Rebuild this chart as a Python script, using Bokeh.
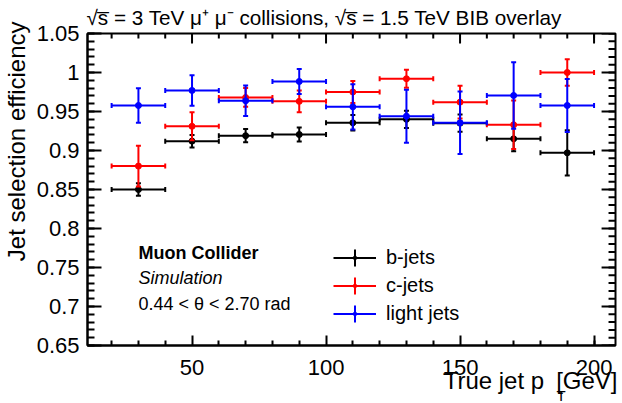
import math
from bokeh.plotting import figure
from bokeh.models import Range1d, FixedTicker, Label, Legend, LegendItem, ColumnDataSource, Title
from bokeh.embed import file_html
from bokeh.resources import INLINE

# ---------------- data ----------------
bin_centers = [30, 50, 70, 90, 110, 130, 150, 170, 190]
bin_half_width = [10, 10, 10, 10, 10, 10, 10, 10, 10]

b_eff = [0.850, 0.912, 0.919, 0.9205, 0.9355, 0.940, 0.935, 0.915, 0.897]
b_err = [0.008, 0.008, 0.0085, 0.009, 0.010, 0.011, 0.011, 0.016, 0.029]

c_eff = [0.880, 0.931, 0.968, 0.963, 0.975, 0.992, 0.962, 0.933, 1.000]
c_err = [0.026, 0.018, 0.012, 0.014, 0.014, 0.0115, 0.021, 0.031, 0.017]

l_eff = [0.9577, 0.977, 0.9637, 0.9885, 0.956, 0.944, 0.9355, 0.9705, 0.9577]
l_err = [0.022, 0.0195, 0.0196, 0.016, 0.029, 0.034, 0.040, 0.0425, 0.034]

series_names = ["b-jets", "c-jets", "light jets"]
series_colors = ["#000000", "#ff0000", "#0000ff"]

x_lim = [11, 208]
y_lim = [0.65, 1.05]
x_major = [50, 100, 150, 200]
x_minor = [20, 30, 40, 60, 70, 80, 90, 110, 120, 130, 140, 160, 170, 180, 190, 200]
y_major = [0.65, 0.7, 0.75, 0.8, 0.85, 0.9, 0.95, 1.0, 1.05]
y_major_labels = ["0.65", "0.7", "0.75", "0.8", "0.85", "0.9", "0.95", "1", "1.05"]
y_minor = [round(0.65 + 0.01 * i, 2) for i in range(41)]

title_text = "\u221as\u0305 = 3 TeV \u03bc\u207a \u03bc\u207b collisions, \u221as\u0305 = 1.5 TeV BIB overlay"
x_title_main = "True jet p\u2002[GeV]"
x_title_sub = "T"
y_title = "Jet selection efficiency"
info_lines = ["Muon Collider", "Simulation", "0.44 < \u03b8 < 2.70 rad"]

FONT = "Liberation Sans"

# layout (px)
W, H = 622, 403
B_LEFT, B_RIGHT, B_TOP, B_BOTTOM = 84, 7, 33, 58
FRAME_W = W - B_LEFT - B_RIGHT
FRAME_H = H - B_TOP - B_BOTTOM
X_MAJOR_TICK, X_MINOR_TICK = 10, 5
Y_MAJOR_TICK, Y_MINOR_TICK = 14, 7

# legend layout (screen px, relative to the frame's bottom-left)
legend_x = 246
legend_first_row = 88
legend_row_gap = 28
legend_box = 43

p = figure(width=W, height=H, output_backend="svg", toolbar_location=None,
           x_range=Range1d(*x_lim), y_range=Range1d(*y_lim),
           min_border_left=B_LEFT, min_border_right=B_RIGHT,
           min_border_top=B_TOP, min_border_bottom=B_BOTTOM)
p.grid.visible = False
p.outline_line_color = "black"
p.outline_line_width = 2
p.background_fill_color = "white"
p.border_fill_color = "white"

# title (above)
p.title.text = title_text
p.title.text_font = FONT
p.title.text_font_size = "20.7px"
p.title.text_font_style = "normal"
p.title.text_color = "black"
p.title.align = "left"
p.title.vertical_align = "top"
p.title.offset = -1
p.title.standoff = 5


def style_axis(ax, major, minor, tin, tmin):
    ax.ticker = FixedTicker(ticks=major, minor_ticks=minor)
    ax.major_tick_in = tin
    ax.major_tick_out = 0
    ax.minor_tick_in = tmin
    ax.minor_tick_out = 0
    ax.axis_line_width = 2
    ax.axis_line_color = "black"
    ax.major_tick_line_width = 2
    ax.minor_tick_line_width = 2
    ax.major_tick_line_color = "black"
    ax.minor_tick_line_color = "black"
    ax.major_label_text_font = FONT
    ax.major_label_text_color = "black"
    ax.major_label_text_font_size = "22px"


xb = p.xaxis[0]
style_axis(xb, x_major, x_minor, X_MAJOR_TICK, X_MINOR_TICK)
xb.major_label_standoff = 14
yl = p.yaxis[0]
style_axis(yl, y_major, y_minor, Y_MAJOR_TICK, Y_MINOR_TICK)
yl.major_label_standoff = 8
yl.major_label_overrides = {v: s for v, s in zip(y_major, y_major_labels)}

# mirrored ticks on the top and right frame edges (drawn from the tick arrays)
x_per_px = (x_lim[1] - x_lim[0]) / FRAME_W
y_per_px = (y_lim[1] - y_lim[0]) / FRAME_H
for ticks, length in ((x_major, X_MAJOR_TICK), (x_minor, X_MINOR_TICK)):
    p.segment(x0=ticks, y0=[y_lim[1]] * len(ticks), x1=ticks,
              y1=[y_lim[1] - length * y_per_px] * len(ticks), line_color="black", line_width=2)
for ticks, length in ((y_major, Y_MAJOR_TICK), (y_minor, Y_MINOR_TICK)):
    p.segment(x0=[x_lim[1]] * len(ticks), y0=ticks, x1=[x_lim[1] - length * x_per_px] * len(ticks),
              y1=ticks, line_color="black", line_width=2)

# axis titles
p.add_layout(Title(text=x_title_main, text_font=FONT, text_font_size="24px", text_font_style="normal",
                   text_color="black", align="right", vertical_align="top",
                   offset=-2, standoff=-22), "below")
p.add_layout(Label(text=x_title_sub, x=469, y=6, x_units="screen", y_units="screen",
                   text_font=FONT, text_font_size="15px", text_color="black",
                   text_align="left", text_baseline="alphabetic"), "below")
p.add_layout(Title(text=y_title, text_font=FONT, text_font_size="24px", text_font_style="normal",
                   text_color="black", align="right", vertical_align="top",
                   offset=-12, standoff=4), "left")

for k, (name, col, eff, err) in enumerate(zip(series_names, series_colors,
                                               [b_eff, c_eff, l_eff], [b_err, c_err, l_err])):
    src = ColumnDataSource(dict(
        x=bin_centers, y=eff,
        xlo=[c - h for c, h in zip(bin_centers, bin_half_width)],
        xhi=[c + h for c, h in zip(bin_centers, bin_half_width)],
        ylo=[e - d for e, d in zip(eff, err)],
        yhi=[e + d for e, d in zip(eff, err)],
    ))
    hseg = p.segment(x0="xlo", y0="y", x1="xhi", y1="y", source=src, line_color=col, line_width=2)
    p.segment(x0="x", y0="ylo", x1="x", y1="yhi", source=src, line_color=col, line_width=2)
    for xc, yc, ang in (("x", "ylo", 0), ("x", "yhi", 0), ("xlo", "y", math.pi / 2), ("xhi", "y", math.pi / 2)):
        p.scatter(x=xc, y=yc, source=src, marker="dash", size=5, angle=ang,
                  line_color=col, line_width=2)
    p.scatter(x="x", y="y", source=src, marker="circle", size=6,
              fill_color=col, line_color=col)
    leg_cross = p.scatter(x=[float("nan")], y=[float("nan")], marker="cross",
                          line_color=col, line_width=2)
    leg_dot = p.scatter(x=[float("nan")], y=[float("nan")], marker="dot",
                        line_color=col, fill_color=col, line_width=2)
    row_y = legend_first_row - k * legend_row_gap - legend_box / 2
    legend = Legend(items=[LegendItem(label=name, renderers=[hseg, leg_cross, leg_dot])],
                    location=(legend_x, row_y), orientation="vertical",
                    glyph_width=legend_box, glyph_height=legend_box, label_height=legend_box,
                    label_standoff=10, spacing=0, padding=0, margin=0, border_line_color=None,
                    background_fill_alpha=0, label_text_font=FONT,
                    label_text_font_size="20px", label_text_color="black")
    p.add_layout(legend)


def lab(**kw):
    base = dict(x_units="screen", y_units="screen", text_font=FONT, text_color="black",
                text_font_size="18px")
    base.update(kw)
    p.add_layout(Label(**base))


lab(x=51, y=83, text=info_lines[0], text_font_style="bold")
lab(x=51, y=58, text=info_lines[1], text_font_style="italic")
lab(x=51, y=32, text=info_lines[2])

open("out.html", "w").write(file_html(p, INLINE))
